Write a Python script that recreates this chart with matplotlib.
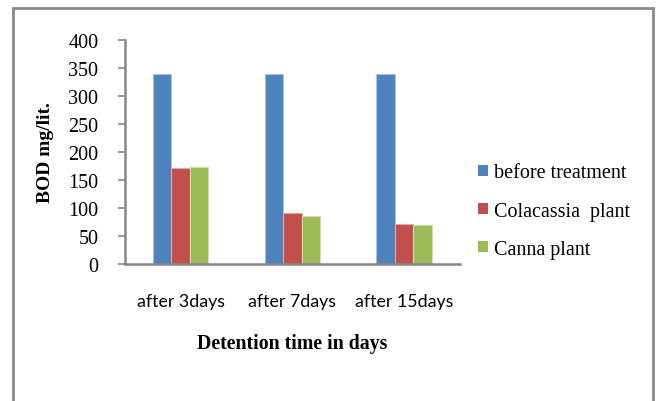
import matplotlib
matplotlib.use('Agg')
import matplotlib.pyplot as plt
import numpy as np
from matplotlib.patches import Rectangle

# data
categories = ['after 3days', 'after 7days', 'after 15days']
before_treatment = [340, 340, 340]
colacassia = [171, 91, 71]
canna = [173, 86, 70]
series_names = ['before treatment', 'Colacassia  plant', 'Canna plant']
colors = ['#4F81BD', '#C0504D', '#9BBB59']
edges = ['#A7C0DE', '#E0A8A6', '#CDDDAC']
y_ticks = [0, 50, 100, 150, 200, 250, 300, 350, 400]

fig = plt.figure(figsize=(6.6, 4.02), dpi=100)
ax = fig.add_axes([0.189, 0.341, 0.508, 0.557])

x = np.arange(len(categories))
w = 0.166
for i, vals in enumerate([before_treatment, colacassia, canna]):
    ax.bar(x + (i - 1) * w, vals, w, color=colors[i], edgecolor=edges[i],
           linewidth=0.8, label=series_names[i], zorder=2)

ax.set_xlim(-0.5, 2.5)
ax.set_ylim(0, 400)
ax.set_yticks(y_ticks)
ax.set_yticklabels([str(t) for t in y_ticks], family='Liberation Serif', fontsize=14.5)
ax.set_xticks(x)
ax.set_xticklabels(categories, family='Lato', fontsize=12.8)
ax.tick_params(axis='x', length=0, pad=21)
ax.tick_params(axis='y', length=5, width=1.2, color='#868686', pad=14)

for s in ['top', 'right']:
    ax.spines[s].set_visible(False)
for s in ['left', 'bottom']:
    ax.spines[s].set_color('#868686')
    ax.spines[s].set_linewidth(1.8)

ax.set_ylabel('BOD mg/lit.', family='Liberation Serif', fontweight='bold', fontsize=14, labelpad=10)
ax.set_xlabel('Detention time in days', family='Liberation Serif', fontweight='bold', fontsize=14.3, labelpad=17)

leg = ax.legend(loc='upper left', bbox_to_anchor=(0.697, 0.636), bbox_transform=fig.transFigure,
                frameon=False, prop={'family': 'Liberation Serif', 'size': 14.5},
                handlelength=0.5, handleheight=0.5, handletextpad=0.3, labelspacing=0.95)
for h in leg.legend_handles:
    h.set_edgecolor('none')

# outer chart frame
fig.patches.append(Rectangle((13 / 660, -0.05), 640 / 660, 1 - 9 / 402 + 0.05,
                             transform=fig.transFigure, fill=False,
                             edgecolor='#898989', linewidth=2))

fig.savefig('out.png', dpi=100)
